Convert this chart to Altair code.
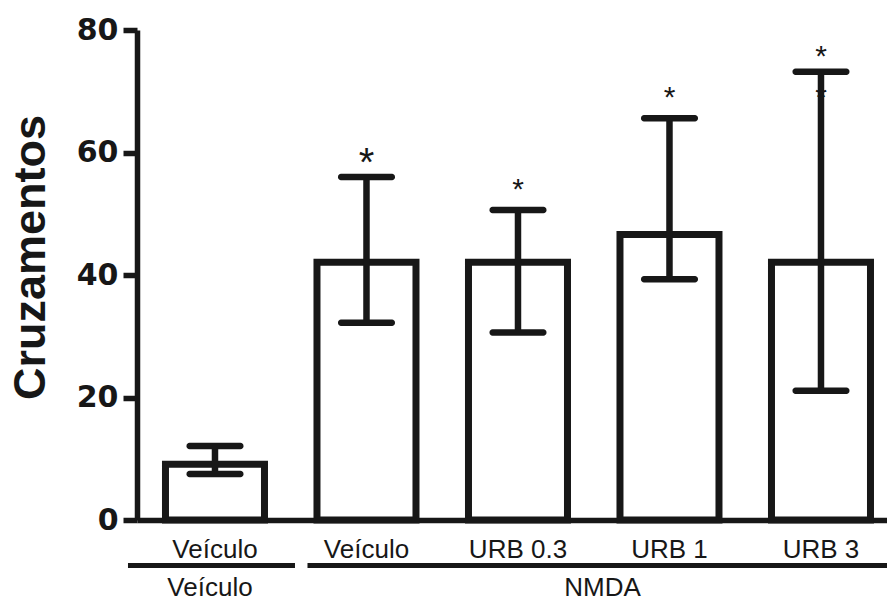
import altair as alt
import pandas as pd

# ---- data ----
groups = ["g1", "g2", "g3", "g4", "g5"]
labels = ["Veículo", "Veículo", "URB 0.3", "URB 1", "URB 3"]
means = [9.1, 42.1, 42.1, 46.6, 42.1]
err_hi = [12.1, 56.0, 50.6, 65.6, 73.2]
err_lo = [7.5, 32.2, 30.6, 39.3, 21.1]

# significance markers (group, baseline value, font size)
star_groups = ["g2", "g3", "g4", "g5", "g5"]
star_y = [56.2, 52.4, 67.4, 74.1, 67.4]
star_size = [40, 30, 30, 30, 30]

# second-row treatment groups
treat_names = ["Veículo", "NMDA"]
treat_start = ["g1", "g2"]
treat_end = ["g1", "g5"]
treat_anchor = ["g1", "g4"]

y_ticks = [0, 20, 40, 60, 80]

INK = "#171717"

df = pd.DataFrame({"g": groups, "label": labels, "mean": means,
                   "hi": err_hi, "lo": err_lo})
stars = pd.DataFrame({"g": star_groups, "y": star_y, "size": star_size})
treat = pd.DataFrame({"name": treat_names, "start": treat_start,
                      "end": treat_end, "anchor": treat_anchor})

label_expr = "''"
for g, l in reversed(list(zip(groups, labels))):
    label_expr = f"datum.value === '{g}' ? '{l}' : {label_expr}"

xscale = alt.Scale(domain=groups, paddingInner=0.3465, paddingOuter=0.1485, align=0.633)
yscale = alt.Scale(domain=[0, 80], nice=False, zero=True)

x_enc = alt.X("g:N", scale=xscale, sort=groups,
              axis=alt.Axis(title=None, labelExpr=label_expr, labelAngle=0,
                            ticks=False, tickSize=0, labelPadding=16,
                            labelFont="Liberation Sans", labelFontSize=26,
                            labelColor=INK, domainColor=INK, domainWidth=5.5))
y_enc = alt.Y("mean:Q", scale=yscale,
              axis=alt.Axis(title="Cruzamentos", values=y_ticks, grid=False,
                            labelFont="DejaVu Sans", labelFontWeight="bold",
                            labelFontSize=30, labelColor=INK, labelPadding=5,
                            tickSize=14, tickWidth=5.5, tickColor=INK,
                            domainColor=INK, domainWidth=5.5,
                            titleFont="Liberation Sans", titleFontSize=45,
                            titleFontWeight="bold", titleColor=INK,
                            titleAngle=270, titleAlign="center",
                            titleBaseline="alphabetic", titleX=-93, titleY=227))

bars = alt.Chart(df).mark_bar(fill="white", stroke=INK, strokeWidth=7).encode(
    x=x_enc, y=y_enc)

star_layer = alt.Chart(stars).mark_text(text="*", font="Liberation Sans",
                                        color=INK, baseline="alphabetic",
                                        align="center").encode(
    x=alt.X("g:N", scale=xscale, sort=groups),
    y=alt.Y("y:Q", scale=yscale),
    size=alt.Size("size:Q", scale=None, legend=None))

stems = alt.Chart(df).mark_rule(color=INK, strokeWidth=6.5).encode(
    x=alt.X("g:N", scale=xscale, sort=groups),
    y=alt.Y("lo:Q", scale=yscale), y2="hi:Q")

caps_hi = alt.Chart(df).mark_tick(color=INK, size=57, thickness=6.5,
                                  cornerRadius=3, orient="horizontal", opacity=1).encode(
    x=alt.X("g:N", scale=xscale, sort=groups),
    y=alt.Y("hi:Q", scale=yscale))
caps_lo = alt.Chart(df).mark_tick(color=INK, size=57, thickness=6.5,
                                  cornerRadius=3, orient="horizontal", opacity=1).encode(
    x=alt.X("g:N", scale=xscale, sort=groups),
    y=alt.Y("lo:Q", scale=yscale))

line1 = alt.Chart(treat.iloc[[0]]).mark_rule(color=INK, strokeWidth=5,
                                              xOffset=-87, x2Offset=80).encode(
    x=alt.X("start:N", scale=xscale, sort=groups), x2="end:N",
    y=alt.value(535.5))
line2 = alt.Chart(treat.iloc[[1]]).mark_rule(color=INK, strokeWidth=5,
                                              xOffset=-59, x2Offset=80).encode(
    x=alt.X("start:N", scale=xscale, sort=groups), x2="end:N",
    y=alt.value(535.5))

t1 = alt.Chart(treat.iloc[[0]]).mark_text(font="Liberation Sans", fontSize=26,
                                          color=INK, baseline="alphabetic",
                                          align="center", dx=-5).encode(
    x=alt.X("anchor:N", scale=xscale, sort=groups), y=alt.value(566),
    text="name:N")
t2 = alt.Chart(treat.iloc[[1]]).mark_text(font="Liberation Sans", fontSize=26,
                                          color=INK, baseline="alphabetic",
                                          align="center", dx=-67).encode(
    x=alt.X("anchor:N", scale=xscale, sort=groups), y=alt.value(566),
    text="name:N")

chart = alt.layer(bars, star_layer, stems, caps_hi, caps_lo,
                  line1, line2, t1, t2).properties(
    width=750, height=490,
    autosize=alt.AutoSizeParams(type="none"),
    padding={"left": 137, "top": 30, "right": 0, "bottom": 82},
    background="white",
).configure_view(stroke=None)

chart.save("out.html", embed_options={"renderer": "svg", "actions": False})
